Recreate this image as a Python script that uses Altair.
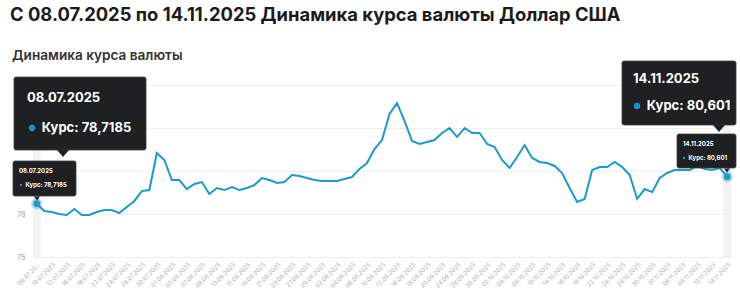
import altair as alt
import pandas as pd

# ---- data ----
dates = [
    "08.07.2025", "09.07.2025", "10.07.2025", "11.07.2025", "12.07.2025",
    "15.07.2025", "16.07.2025", "17.07.2025", "18.07.2025", "19.07.2025",
    "22.07.2025", "23.07.2025", "24.07.2025", "25.07.2025", "26.07.2025",
    "29.07.2025", "30.07.2025", "31.07.2025", "01.08.2025", "02.08.2025",
    "05.08.2025", "06.08.2025", "07.08.2025", "08.08.2025", "09.08.2025",
    "12.08.2025", "13.08.2025", "14.08.2025", "15.08.2025", "16.08.2025",
    "19.08.2025", "20.08.2025", "21.08.2025", "22.08.2025", "23.08.2025",
    "26.08.2025", "27.08.2025", "28.08.2025", "29.08.2025", "30.08.2025",
    "02.09.2025", "03.09.2025", "04.09.2025", "05.09.2025", "06.09.2025",
    "09.09.2025", "10.09.2025", "11.09.2025", "12.09.2025", "13.09.2025",
    "16.09.2025", "17.09.2025", "18.09.2025", "19.09.2025", "20.09.2025",
    "23.09.2025", "24.09.2025", "25.09.2025", "26.09.2025", "27.09.2025",
    "30.09.2025", "01.10.2025", "02.10.2025", "03.10.2025", "04.10.2025",
    "07.10.2025", "08.10.2025", "09.10.2025", "10.10.2025", "11.10.2025",
    "14.10.2025", "15.10.2025", "16.10.2025", "17.10.2025", "18.10.2025",
    "21.10.2025", "22.10.2025", "23.10.2025", "24.10.2025", "25.10.2025",
    "28.10.2025", "29.10.2025", "30.10.2025", "31.10.2025", "01.11.2025",
    "05.11.2025", "06.11.2025", "07.11.2025", "08.11.2025", "11.11.2025",
    "12.11.2025", "13.11.2025", "14.11.2025",
]
rates = [
    78.7185, 78.21, 78.14, 78.00, 77.93,
    78.35, 77.93, 77.93, 78.14, 78.28,
    78.28, 78.07, 78.49, 78.91, 79.60,
    79.67, 82.26, 81.77, 80.37, 80.37,
    79.74, 80.09, 80.23, 79.40, 79.81,
    79.67, 79.88, 79.67, 79.81, 80.02,
    80.51, 80.37, 80.16, 80.23, 80.72,
    80.65, 80.51, 80.37, 80.30, 80.30,
    80.30, 80.44, 80.58, 81.14, 81.56,
    82.53, 83.16, 84.98, 85.74, 84.49,
    83.09, 82.88, 83.02, 83.16, 83.65,
    84.00, 83.37, 84.00, 83.65, 83.65,
    82.88, 82.67, 81.77, 81.21, 81.98,
    82.81, 81.91, 81.63, 81.56, 81.35,
    80.86, 79.81, 78.84, 79.05, 81.07,
    81.28, 81.28, 81.63, 81.28, 80.72,
    79.05, 79.74, 79.53, 80.51, 80.86,
    81.07, 81.07, 81.07, 81.35, 81.14,
    81.07, 81.21, 80.601,
]
y_ticks = [75, 78, 81, 84, 87]

title_text = "С 08.07.2025 по 14.11.2025 Динамика курса валюты Доллар США"
subtitle_text = "Динамика курса валюты"
series_name = "Курс"

# ---- layout ----
OX, OY = 33, 85          # plot origin on the page
W, H = 698, 172
FONT = "Inter"
LINE = "#1b9acb"
TIP_BG = "#1f2022"

df = pd.DataFrame({"date": dates, "rate": rates})
ends = pd.DataFrame({"date": [dates[0], dates[-1]], "rate": [rates[0], rates[-1]]})

xenc = alt.X(
    "date:O", sort=dates,
    scale=alt.Scale(type="point", padding=0.5),
    axis=alt.Axis(
        values=dates[::2], labelAngle=-45, labelFontSize=6, labelColor="#b0b0b0",
        labelFont=FONT, ticks=False, domain=False, grid=False, labelPadding=4,
        labelExpr="datum.value == '08.07.2025' ? '08.07.20…' : datum.label",
        title=None,
    ),
)
yenc = alt.Y(
    "rate:Q",
    scale=alt.Scale(domain=[y_ticks[0], y_ticks[-1]], nice=False, zero=False),
    axis=alt.Axis(
        values=y_ticks, labelFontSize=7, labelColor="#9a9a9a", labelFont=FONT,
        labelExpr="datum.value <= 78 ? datum.label : ''",
        ticks=False, domain=False, gridColor="#efefef", labelPadding=8, title=None,
    ),
)

band = alt.Chart(ends).mark_bar(size=8, color="#f2f2f2").encode(
    x=xenc, y=alt.value(0), y2=alt.value(H)
)
line = alt.Chart(df).mark_line(color=LINE, strokeWidth=2).encode(x=xenc, y=yenc)
halo = alt.Chart(ends).mark_circle(color=LINE, opacity=0.3, size=130).encode(
    x=xenc, y=yenc
)
dot = alt.Chart(ends).mark_circle(color=LINE, opacity=1, size=45).encode(
    x=xenc, y=yenc
)


def fmt(v):
    return str(v).replace(".", ",")


def tooltip(idx, box, ptr, pw, ph, dpos, vpos, fs, dotsize):
    one = pd.DataFrame({"d": [dates[idx]], "v": [series_name + ": " + fmt(rates[idx])]})
    c = alt.Chart(one)
    x0, y0, x1, y1 = box
    rect = c.mark_rect(color=TIP_BG, stroke="#3c3c3c", strokeWidth=0.8, cornerRadius=2).encode(
        x=alt.value(x0 - OX), x2=alt.value(x1 - OX),
        y=alt.value(y0 - OY), y2=alt.value(y1 - OY),
    )
    px, py = ptr
    path = f"M-1,{-ph / pw}L1,{-ph / pw}L0,{ph / pw}Z"
    tri = c.mark_point(shape=path, filled=True, color=TIP_BG, opacity=1, size=pw * pw).encode(
        x=alt.value(px - OX), y=alt.value(py - OY)
    )
    dtxt = c.mark_text(align="left", baseline="middle", font=FONT, fontSize=fs,
                       fontWeight="bold", color="white").encode(
        x=alt.value(dpos[0] - OX), y=alt.value(dpos[1] - OY), text="d:N")
    bullet = c.mark_circle(color="#1a90d8", opacity=1, size=dotsize).encode(
        x=alt.value(vpos[0] - OX), y=alt.value(vpos[1] - OY))
    vtxt = c.mark_text(align="left", baseline="middle", font=FONT, fontSize=fs,
                       fontWeight="bold", color="white").encode(
        x=alt.value(vpos[0] - OX + fs * 0.75), y=alt.value(vpos[1] - OY), text="v:N")
    return [rect, tri, dtxt, bullet, vtxt]


tips = []
tips += tooltip(0, (14, 77, 146, 150), (63, 153.5), 12, 7, (27, 98), (32, 128), 13, 40)
tips += tooltip(0, (13, 161, 76, 196), (37, 198.5), 6, 4, (19, 171), (21, 185), 6, 6)
tips += tooltip(-1, (622, 61, 736, 125), (719, 128.5), 12, 7, (633, 79), (637, 106), 13, 40)
tips += tooltip(-1, (677, 134, 736, 168), (727, 170.5), 6, 4, (683, 144), (684, 158), 6, 6)

hdr = pd.DataFrame({"t": [title_text], "s": [subtitle_text]})
title = alt.Chart(hdr).mark_text(align="left", baseline="alphabetic", font=FONT,
                                 fontSize=18.4, fontWeight="bold", color="#1b1b1b").encode(
    x=alt.value(10 - OX), y=alt.value(21 - OY), text="t:N")
subtitle = alt.Chart(hdr).mark_text(align="left", baseline="alphabetic", font=FONT,
                                    fontSize=13.6, fontWeight=600, color="#333333").encode(
    x=alt.value(12 - OX), y=alt.value(60 - OY), text="s:N")

chart = alt.layer(band, line, halo, dot, *tips, title, subtitle).properties(
    width=W, height=H,
    autosize=alt.AutoSizeParams(type="none"),
    padding={"left": OX, "top": OY, "right": 740 - OX - W, "bottom": 293 - OY - H},
    background="white",
).configure_view(stroke=None)

chart.save("out.html", embed_options={"renderer": "svg", "actions": False})
